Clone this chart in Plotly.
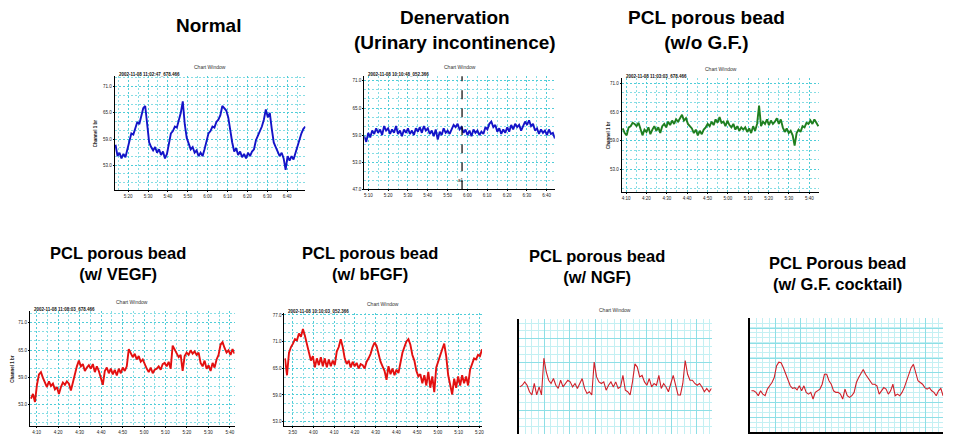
import numpy as np
import plotly.graph_objects as go

# ---------------- data (values in % of each panel's plot height) ----------------
normal = [40, 30, 33, 28, 32, 29, 36, 44, 50, 49, 54, 60, 58, 66, 72, 74, 56, 42, 38, 35,
          38, 33, 36, 31, 34, 28, 32, 40, 50, 52, 56, 55, 62, 68, 78, 58, 46, 40, 36, 38,
          33, 35, 30, 33, 30, 36, 44, 50, 52, 56, 55, 60, 62, 66, 74, 72, 70, 64, 52, 42,
          34, 37, 31, 34, 29, 32, 28, 33, 30, 34, 36, 44, 48, 52, 56, 62, 71, 64, 68, 54,
          42, 38, 34, 30, 33, 28, 18, 30, 26, 30, 27, 33, 38, 44, 50, 54, 56]

denervation = [47, 42, 50, 46, 52, 49, 54, 50, 53, 48, 56, 52, 54, 49, 53, 50, 56, 49, 52, 47,
               53, 50, 54, 49, 52, 48, 54, 51, 55, 50, 56, 52, 54, 49, 52, 47, 53, 44, 51, 48,
               54, 50, 52, 49, 53, 57, 55, 58, 53, 55, 50, 53, 48, 52, 47, 53, 50, 52, 48, 51,
               49, 55, 53, 58, 60, 55, 57, 51, 54, 49, 53, 50, 55, 51, 57, 53, 58, 55, 57, 52,
               56, 60, 57, 61, 56, 58, 52, 54, 49, 53, 50, 52, 48, 53, 49, 50, 45]

pcl_no_gf = [56, 52, 50, 57, 58, 61, 60, 58, 61, 56, 50, 55, 53, 57, 51, 55, 58, 54, 57, 52,
             58, 60, 57, 62, 59, 63, 60, 64, 62, 65, 68, 63, 65, 60, 58, 56, 52, 55, 50, 54,
             51, 55, 57, 60, 58, 62, 59, 64, 61, 66, 61, 62, 58, 63, 59, 57, 60, 55, 58, 54,
             57, 55, 57, 53, 56, 52, 58, 54, 60, 76, 58, 62, 60, 64, 59, 63, 60, 62, 65, 60,
             64, 57, 53, 56, 52, 54, 50, 41, 52, 55, 53, 58, 57, 61, 60, 63, 60, 64, 61, 58]

pcl_vegf = [24, 28, 21, 36, 45, 47, 42, 38, 34, 39, 35, 37, 32, 34, 28, 34, 38, 36, 39, 37,
            31, 38, 46, 52, 57, 52, 54, 48, 51, 53, 50, 54, 47, 52, 48, 42, 36, 48, 51, 46,
            50, 45, 49, 44, 50, 46, 51, 48, 52, 67, 64, 60, 63, 58, 61, 56, 58, 53, 50, 47,
            51, 46, 49, 50, 52, 49, 54, 55, 52, 56, 50, 70, 67, 64, 60, 62, 48, 61, 64, 62,
            66, 63, 65, 62, 64, 55, 52, 57, 50, 53, 48, 55, 51, 58, 62, 71, 73, 68, 64, 66,
            62, 67, 63]

pcl_bfgf = [60, 45, 65, 70, 73, 77, 76, 82, 79, 86, 80, 72, 65, 58, 62, 52, 60, 54, 61, 53,
            60, 52, 59, 53, 58, 54, 66, 70, 77, 70, 60, 55, 58, 52, 57, 53, 56, 51, 55, 54,
            51, 57, 60, 64, 70, 74, 71, 64, 57, 53, 49, 41, 53, 46, 51, 45, 50, 47, 57, 65,
            70, 75, 77, 72, 63, 58, 49, 44, 46, 38, 45, 36, 48, 34, 44, 30, 52, 58, 64, 68,
            73, 62, 45, 36, 28, 42, 34, 44, 36, 45, 38, 44, 36, 50, 56, 60, 59, 63, 62, 68]

pcl_ngf = [41, 42.5, 45.4, 42.5, 36.8, 34, 44, 34, 41, 34, 66, 54, 46.8, 44, 48.3, 42.5, 39.7,
           46.8, 41, 44, 46.8, 45.4, 41, 44, 39.7, 44, 48.3, 39.7, 35.3, 36.8, 34, 62.6, 49.7,
           45.4, 44, 45.4, 38.2, 42.5, 45.4, 41, 45.4, 39.7, 41, 51, 38.2, 36.8, 34, 45.4, 61,
           58.3, 49.7, 51, 45.4, 42.5, 48.3, 41, 44, 42.5, 51, 39.7, 44, 41, 36.8, 44, 51, 42.5,
           34, 34, 44, 64, 52, 46.8, 46.8, 44, 42.5, 44, 41, 36.8, 39.7, 36.8, 39.7]

pcl_cocktail = [36.2, 36.2, 34.8, 31.9, 36.2, 33.3, 31.9, 37.7, 40.6, 43.5, 47.8, 58, 61.4, 60.9,
                56.5, 50.7, 46.4, 40.6, 38.3, 39, 37, 40.6, 36.2, 40.6, 34.8, 33.3, 34.8, 29,
                34.8, 36.2, 37.7, 42, 50.7, 50.7, 45, 42, 36.2, 34.8, 34.8, 33.3, 29, 37.7, 31.9,
                30.4, 31.9, 34.8, 43.5, 47.8, 52, 55, 50.7, 47.8, 45, 42, 42, 40.6, 33.3, 36.2,
                39, 37.7, 33.3, 36.2, 42, 31.9, 33.3, 31.9, 34.8, 39, 45, 52, 56.5, 59.4, 52, 45,
                43.5, 42, 39, 37.7, 39, 36.2, 34.8, 31.9, 36.2, 38.3, 31.9]

titles = ["Normal", "Denervation<br>(Urinary incontinence)", "PCL porous bead<br>(w/o G.F.)",
          "PCL porous bead<br>(w/ VEGF)", "PCL porous bead<br>(w/ bFGF)",
          "PCL porous bead<br>(w/ NGF)", "PCL Porous bead<br>(w/ G.F. cocktail)"]

stamps = ["2002-11-08 11:02:47_678.466", "2002-11-08 10:10:48_052.366",
          "2002-11-08 11:03:03_678.466", "2002-11-08 11:08:03_678.466",
          "2002-11-08 10:10:03_052.366", None, None]

x_ticklabels = [
    ["5:20", "5:30", "5:40", "5:50", "6:00", "6:10", "6:20", "6:30", "6:40"],
    ["5:10", "5:20", "5:30", "5:40", "5:50", "6:00", "6:10", "6:20", "6:30", "6:40"],
    ["4:10", "4:20", "4:30", "4:40", "4:50", "5:00", "5:10", "5:20", "5:30", "5:40"],
    ["4:10", "4:20", "4:30", "4:40", "4:50", "5:00", "5:10", "5:20", "5:30", "5:40"],
    ["3:50", "4:00", "4:10", "4:20", "4:30", "4:40", "4:50", "5:00", "5:10", "5:20"],
]
y_ticklabels = [
    ["71.0", "65.0", "59.0", "53.0"],
    ["71.0", "65.0", "59.0", "53.0", "47.0"],
    ["71.0", "65.0", "59.0", "53.0"],
    ["71.0", "65.0", "59.0", "53.0"],
    ["77.0", "71.0", "65.0", "59.0", "53.0"],
]

series = [normal, denervation, pcl_no_gf, pcl_vegf, pcl_bfgf, pcl_ngf, pcl_cocktail]

# ---------------- layout / style ----------------
W, H = 975, 434
# plot boxes in pixels: left, right, top, bottom
boxes = [(107, 298, 68, 183), (357, 548, 68, 182), (615, 813, 70, 185),
         (22, 227, 305, 421), (277, 475, 307, 421), (512, 705, 313, 429), (744, 937, 312, 427)]
colors = ["#1414c8", "#1414c8", "#1f7f1f", "#e31010", "#e31010", "#d0202a", "#d0202a"]
widths = [1.9, 1.9, 1.9, 1.9, 1.9, 1.1, 1.1]
trace_span = [(0.4, 100), (0, 100), (0.5, 99.5), (0.5, 100), (0.3, 100), (0.5, 100), (0.5, 100)]
title_pos = [(201, 17), (448, 21), (700, 21), (110, 257), (363, 257), (590, 260), (831, 267)]
title_size = [19, 19, 19, 16.5, 16.5, 16.5, 16.5]
# y tick positions (fraction of height) and x tick start/step
ytick = [(22, 23), (0, 24), (20.3, 25.1), (18.6, 23.8), (4, 23.6)]
xtick = [(7, 10.43), (2.1, 10.4), (2.2, 10.3), (3.25, 10.5), (4.2, 10.5)]
GD = "2px,2px"

fig = go.Figure()
ann = []
shapes = []
for i, (vals, box) in enumerate(zip(series, boxes)):
    k = i + 1
    l, r, t, b = box
    xs, xe = trace_span[i]
    x = np.linspace(xs, xe, len(vals))
    fig.add_trace(go.Scatter(x=x, y=vals, mode="lines", xaxis=f"x{k}", yaxis=f"y{k}",
                             line=dict(color=colors[i], width=widths[i]), showlegend=False,
                             hoverinfo="skip"))
    xd = [l / W, r / W]
    yd = [1 - b / H, 1 - t / H]
    if i < 5:
        y0, dy = ytick[i]
        tv = [y0 + dy * j for j in range(len(y_ticklabels[i]))][::-1]
        x0, dx = xtick[i]
        xv = [x0 + dx * j for j in range(len(x_ticklabels[i]))]
        xa = dict(domain=xd, anchor=f"y{k}", range=[0, 100], showgrid=True,
                  gridcolor="#4fcdd8", griddash=GD, gridwidth=1,
                  tickmode="array", tickvals=xv, ticktext=x_ticklabels[i],
                  tickfont=dict(size=4.5, color="#222", family="Arial"),
                  showline=True, linecolor="black", linewidth=1, zeroline=False,
                  ticks="outside", ticklen=1, tickcolor="black",
                  minor=dict(tick0=x0 + dx / 2, dtick=dx, showgrid=True,
                             gridcolor="#86dde4", griddash=GD))
        ya = dict(domain=yd, anchor=f"x{k}", range=[0, 100], showgrid=True,
                  gridcolor="#4fcdd8", griddash=GD, gridwidth=1,
                  tickmode="array", tickvals=tv, ticktext=y_ticklabels[i],
                  tickfont=dict(size=4.5, color="#222", family="Arial"),
                  showline=True, linecolor="black", linewidth=1, zeroline=False,
                  ticks="outside", ticklen=1, tickcolor="black",
                  minor=dict(tick0=y0, dtick=dy / 3, showgrid=True,
                             gridcolor="#86dde4", griddash=GD))
    else:
        xa = dict(domain=xd, anchor=f"y{k}", range=[0, 100], showgrid=True,
                  gridcolor="#8edfe6", gridwidth=1, tickmode="linear", tick0=0,
                  dtick=13.2 if i == 5 else 13, showticklabels=False,
                  showline=True, linecolor="black", linewidth=2, zeroline=False,
                  minor=dict(dtick=3.3 if i == 5 else 3.25, showgrid=True, gridcolor="#c4f0f3"))
        ya = dict(domain=yd, anchor=f"x{k}", range=[0, 100], showgrid=True,
                  gridcolor="#8edfe6", gridwidth=1, tickmode="linear", tick0=0,
                  dtick=20.7 if i == 5 else 13, showticklabels=False,
                  showline=True, linecolor="black", linewidth=2, zeroline=False,
                  minor=dict(dtick=6.9 if i == 5 else 4.35, showgrid=True, gridcolor="#c4f0f3"))
    fig.update_layout(**{f"xaxis{k}": xa, f"yaxis{k}": ya})

    # panel title
    tx, ty = title_pos[i]
    ann.append(dict(x=tx / W, y=1 - ty / H, xref="paper", yref="paper", text=f"<b>{titles[i]}</b>",
                    showarrow=False,
                    font=dict(size=title_size[i], family="Arial, Liberation Sans", color="black"),
                    xanchor="center", yanchor="middle"))
    # "Chart Window" small caption
    if i < 6:
        ann.append(dict(x=(l + r) / 2 / W, y=1 - (t - 9) / H, xref="paper", yref="paper",
                        text="Chart Window", showarrow=False,
                        font=dict(size=5, family="Arial", color="#333"), xanchor="center",
                        yanchor="middle"))
    if stamps[i]:
        ann.append(dict(x=(l + 2) / W, y=1 - (t - 2) / H, xref="paper", yref="paper",
                        text=f"<b>{stamps[i]}</b>", showarrow=False,
                        font=dict(size=4.5, family="Arial", color="#111"), xanchor="left",
                        yanchor="middle"))
    if i in (0, 2, 3):
        off = {0: 19, 2: 13, 3: 17}[i]
        ann.append(dict(x=(l - off) / W, y=1 - (t + b) / 2 / H, xref="paper", yref="paper",
                        text="<b>Channel 1 br</b>", showarrow=False, textangle=-90,
                        font=dict(size=4.5, family="Arial", color="#222"), xanchor="center",
                        yanchor="middle"))

# denervation marker line
shapes.append(dict(type="line", xref="x2", yref="y2 domain", x0=51.3, x1=51.3, y0=0, y1=1,
                   line=dict(color="black", width=1.2, dash="dash")))
ann.append(dict(x=50.5, y=8, xref="x2", yref="y2", text="a1", showarrow=False,
                font=dict(size=4.5, family="Arial", color="#111")))

fig.update_layout(width=W, height=H, margin=dict(l=0, r=0, t=0, b=0),
                  paper_bgcolor="white", plot_bgcolor="white",
                  annotations=ann, shapes=shapes)
fig.write_html("out.html")
